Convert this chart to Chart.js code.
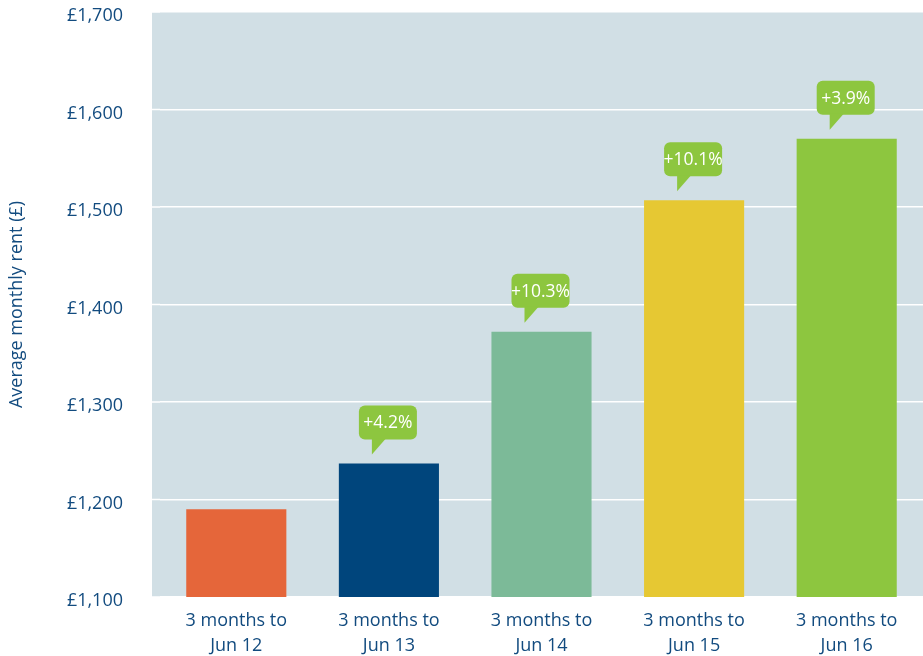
<!DOCTYPE html>
<html>
<head>
<meta charset="utf-8">
<script src="https://cdn.jsdelivr.net/npm/chart.js@4.4.1/dist/chart.umd.min.js"></script>
<style>
  html, body { margin: 0; padding: 0; background: #fff; }
  #wrap { width: 923px; height: 656px; }
</style>
</head>
<body>
<div id="wrap"><canvas id="chart"></canvas></div>
<script>
// data
const categories = [
  ["3 months to", "Jun 12"],
  ["3 months to", "Jun 13"],
  ["3 months to", "Jun 14"],
  ["3 months to", "Jun 15"],
  ["3 months to", "Jun 16"],
];
const rents = [1190, 1237, 1372, 1507, 1570];
const changes = ["", "+4.2%", "+10.3%", "+10.1%", "+3.9%"];
const barColours = ["#e5663a", "#00457c", "#7cba98", "#e6c833", "#8dc63f"];
const yMin = 1100, yMax = 1700, yStep = 100;

const textBlue = "#124b7f";
const calloutGreen = "#8dc63f";
const plotBg = "#d1dfe5";
const bgExtra = 8; // shaded area starts a little left of the first category

// plot background, plus the gridline stubs in the extra strip
const plotBackground = {
  id: "plotBackground",
  beforeDraw(chart) {
    const { ctx, chartArea: a } = chart;
    ctx.save();
    ctx.fillStyle = plotBg;
    ctx.fillRect(a.left - bgExtra, a.top, a.right - a.left + bgExtra, a.bottom - a.top);
    ctx.strokeStyle = "#ffffff";
    ctx.lineWidth = 1.5;
    const y = chart.scales.y;
    for (let v = yMin; v <= yMax; v += yStep) {
      const py = y.getPixelForValue(v);
      ctx.beginPath();
      ctx.moveTo(a.left - bgExtra, py);
      ctx.lineTo(a.left, py);
      ctx.stroke();
    }
    ctx.restore();
  },
};

// green speech bubbles above bars
const callouts = {
  id: "callouts",
  afterDatasetsDraw(chart) {
    const { ctx } = chart;
    const bars = chart.getDatasetMeta(0).data;
    ctx.save();
    bars.forEach((bar, i) => {
      const txt = changes[i];
      if (!txt) return;
      const w = 58, h = 34, r = 6;
      const left = bar.x - 30;
      const bottom = bar.y - 24;
      const top = bottom - h;
      ctx.fillStyle = calloutGreen;
      ctx.beginPath();
      ctx.roundRect(left, top, w, h, r);
      ctx.fill();
      ctx.beginPath();
      ctx.moveTo(left + 13, bottom - 1);
      ctx.lineTo(left + 13, bar.y - 9);
      ctx.lineTo(left + 27, bottom - 1);
      ctx.closePath();
      ctx.fill();
      ctx.fillStyle = "#ffffff";
      ctx.font = "17.5px 'Open Sans'";
      ctx.textAlign = "center";
      ctx.textBaseline = "middle";
      ctx.fillText(txt, left + w / 2, top + h / 2 + 1);
    });
    ctx.restore();
  },
};

new Chart(document.getElementById("chart"), {
  type: "bar",
  data: {
    labels: categories,
    datasets: [
      {
        data: rents,
        backgroundColor: barColours,
        barPercentage: 0.656,
        categoryPercentage: 1,
      },
    ],
  },
  options: {
    responsive: true,
    maintainAspectRatio: false,
    animation: false,
    layout: { padding: { top: 12, right: 0, left: 0, bottom: 0 } },
    plugins: {
      legend: { display: false },
      tooltip: { enabled: false },
    },
    scales: {
      x: {
        afterFit(scale) {
          scale.height = 59;
          scale.paddingLeft = 0;
          scale.paddingRight = 0;
        },
        grid: { display: false },
        border: { display: false },
        ticks: {
          color: textBlue,
          font: { family: "Open Sans", size: 18, lineHeight: 1.4 },
          padding: 3,
          maxRotation: 0,
          autoSkip: false,
        },
      },
      y: {
        min: yMin,
        max: yMax,
        afterFit(scale) {
          scale.width = 152 + bgExtra;
          scale.paddingTop = 0;
          scale.paddingBottom = 0;
        },
        grid: { color: "#ffffff", lineWidth: 1.5, drawTicks: false },
        border: { display: false },
        ticks: {
          stepSize: yStep,
          color: textBlue,
          padding: 29 + bgExtra,
          labelOffset: 4,
          font: { family: "Open Sans", size: 18 },
          callback: (v) => "£" + v.toLocaleString("en-GB"),
        },
        title: {
          display: true,
          text: "Average monthly rent (£)",
          color: textBlue,
          font: { family: "Open Sans", size: 18 },
          padding: { top: 6, bottom: 0 },
        },
      },
    },
  },
  plugins: [plotBackground, callouts],
});
</script>
</body>
</html>
